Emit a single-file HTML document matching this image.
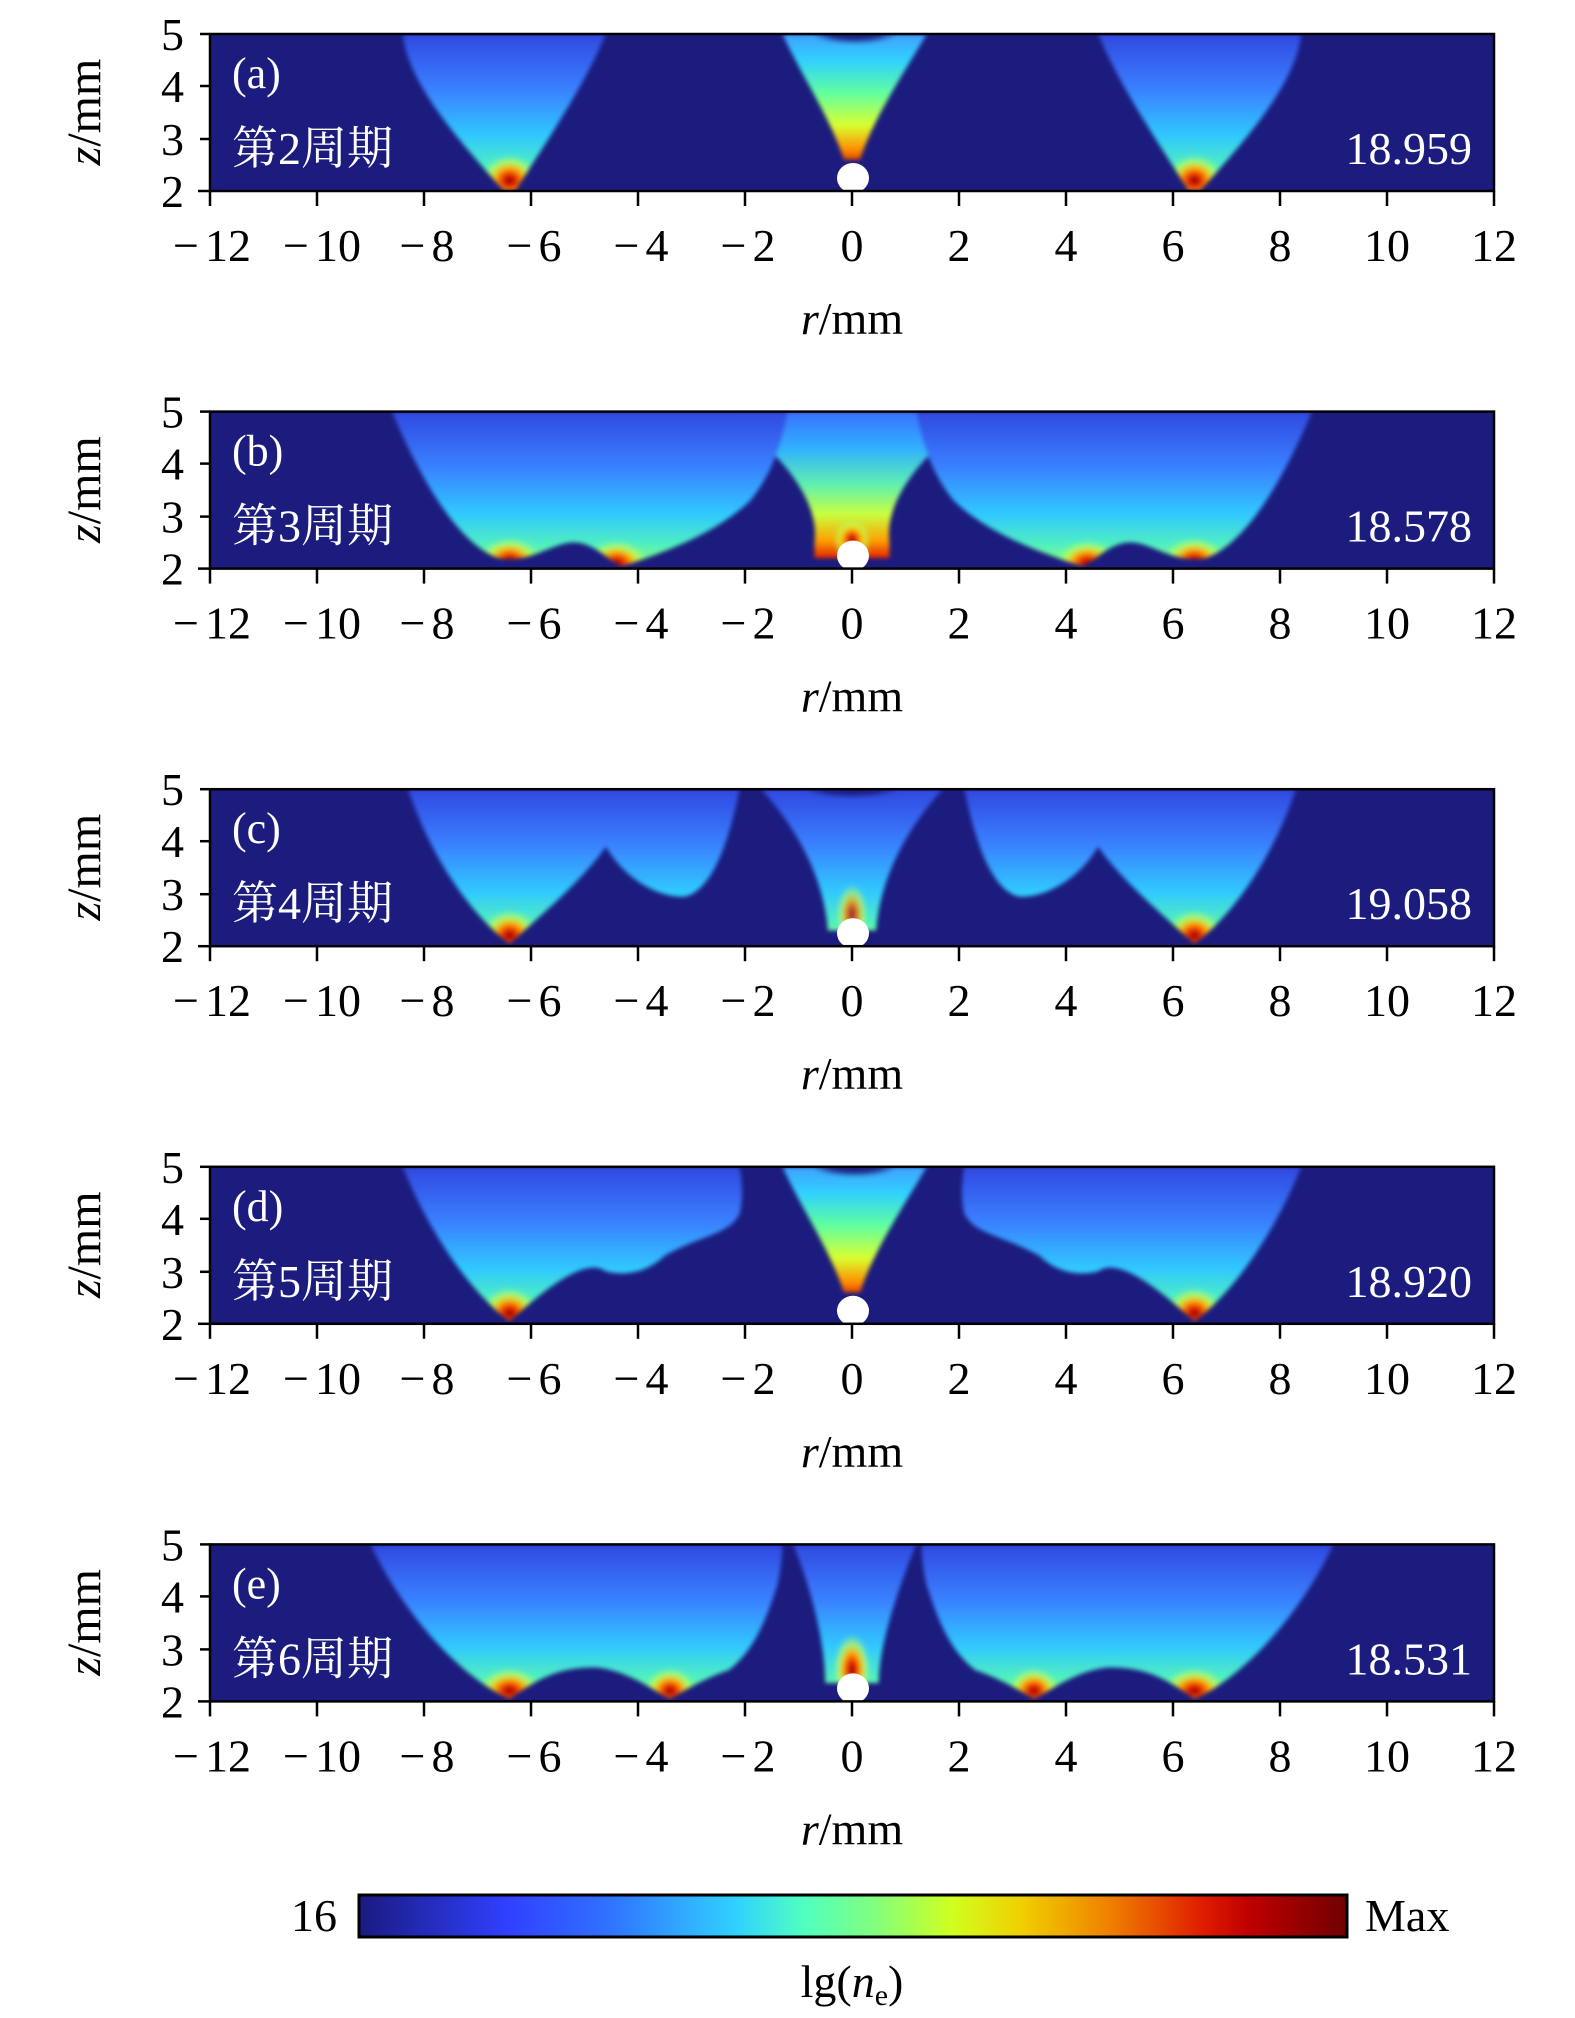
<!DOCTYPE html>
<html><head><meta charset="utf-8"><style>
html,body{margin:0;padding:0;background:#fff;}
svg{display:block;}
text{font-family:"Liberation Serif","Noto Serif CJK SC",serif;}
</style></head><body>
<svg width="1575" height="2018" viewBox="0 0 1575 2018" xmlns="http://www.w3.org/2000/svg">
<defs>
<linearGradient id="side" gradientUnits="userSpaceOnUse" x1="0" y1="2" x2="0" y2="5">
<stop offset="0" stop-color="#a0ff60"/><stop offset="0.15" stop-color="#50f0c0"/>
<stop offset="0.35" stop-color="#30c8ff"/><stop offset="0.65" stop-color="#3a80ff"/>
<stop offset="1" stop-color="#3048e0"/></linearGradient>
<linearGradient id="cen" gradientUnits="userSpaceOnUse" x1="0" y1="2.5" x2="0" y2="5">
<stop offset="0" stop-color="#d02000"/><stop offset="0.12" stop-color="#ff9000"/>
<stop offset="0.3" stop-color="#d8ff30"/><stop offset="0.55" stop-color="#60ffa0"/>
<stop offset="0.8" stop-color="#30d0ff"/><stop offset="1" stop-color="#40a0ff"/></linearGradient>
<linearGradient id="cenb" gradientUnits="userSpaceOnUse" x1="0" y1="2.2" x2="0" y2="5">
<stop offset="0" stop-color="#e02000"/><stop offset="0.12" stop-color="#ffa000"/>
<stop offset="0.3" stop-color="#c8ff40"/><stop offset="0.5" stop-color="#60f0b0"/>
<stop offset="0.75" stop-color="#30b0ff"/><stop offset="1" stop-color="#3a70ff"/></linearGradient>
<radialGradient id="hot">
<stop offset="0" stop-color="#900000"/><stop offset="0.2" stop-color="#e02000"/>
<stop offset="0.45" stop-color="#ffa000"/><stop offset="0.7" stop-color="#d0ff40" stop-opacity="0.7"/>
<stop offset="1" stop-color="#80ff80" stop-opacity="0"/></radialGradient>
<radialGradient id="nav">
<stop offset="0" stop-color="#1c1c7e"/><stop offset="0.6" stop-color="#1c1c7e" stop-opacity="0.9"/>
<stop offset="1" stop-color="#1c1c7e" stop-opacity="0"/></radialGradient>
<linearGradient id="jet" x1="0" y1="0" x2="1" y2="0">
<stop offset="0" stop-color="#1a1a80"/><stop offset="0.15" stop-color="#3040ff"/>
<stop offset="0.25" stop-color="#3070ff"/><stop offset="0.38" stop-color="#30d0ff"/>
<stop offset="0.45" stop-color="#50ffc0"/><stop offset="0.52" stop-color="#80ff80"/>
<stop offset="0.6" stop-color="#d0ff20"/><stop offset="0.67" stop-color="#f0d000"/>
<stop offset="0.76" stop-color="#f08000"/><stop offset="0.85" stop-color="#e02000"/>
<stop offset="0.9" stop-color="#c00000"/><stop offset="1" stop-color="#700000"/></linearGradient>
<filter id="bl" x="-0.2" y="-0.2" width="1.4" height="1.4"><feGaussianBlur stdDeviation="0.04"/></filter>
<clipPath id="plot"><rect x="-12" y="2" width="24" height="3"/></clipPath>

<path id="pa" d="M-6.5,2 C-7.2,2.8 -8.3,4 -8.4,5 L-4.6,5 C-5,4 -5.8,2.8 -6.3,2 Z"/>
<clipPath id="ca"><use href="#pa"/></clipPath>
<g id="sa"><g clip-path="url(#ca)"><rect x="-9" y="2" width="5" height="3" fill="url(#side)"/>
<ellipse cx="-6.4" cy="2.2" rx="0.55" ry="0.5" fill="url(#hot)"/></g></g>
<path id="pca" d="M-0.15,2.6 C-0.4,3.4 -1,4.3 -1.3,5 L1.4,5 C1,4.3 0.4,3.4 0.15,2.6 Z"/>
<clipPath id="cca"><use href="#pca"/></clipPath>
<g id="ga"><g clip-path="url(#cca)"><rect x="-2" y="2" width="4" height="3" fill="url(#cen)"/>
<ellipse cx="0.05" cy="5" rx="0.8" ry="0.2" fill="url(#nav)"/></g></g>

<path id="pb" d="M-8.6,5 C-7.9,3.3 -7.2,2.4 -6.6,2.2 C-6.0,2.1 -5.6,2.5 -5.2,2.5 C-4.8,2.5 -4.5,2.1 -4.3,2.05 C-3.5,2.3 -2.5,2.7 -1.9,3.3 C-1.5,3.8 -1.3,4.4 -1.2,5 Z"/>
<clipPath id="cb"><use href="#pb"/></clipPath>
<g id="sb"><g clip-path="url(#cb)"><rect x="-9" y="2" width="9" height="3" fill="url(#side)"/>
<ellipse cx="-6.4" cy="2.15" rx="0.6" ry="0.45" fill="url(#hot)"/>
<ellipse cx="-4.4" cy="2.1" rx="0.6" ry="0.45" fill="url(#hot)"/></g></g>
<g id="gb">
<path d="M-0.7,2.2 L-0.7,2.5 C-0.6,3.3 -1.3,4.2 -2.4,5 L2.4,5 C1.3,4.2 0.6,3.3 0.7,2.5 L0.7,2.2 Z" fill="url(#cenb)"/>
<ellipse cx="0" cy="2.55" rx="0.35" ry="0.4" fill="url(#hot)"/>
</g>

<path id="pc" d="M-8.3,5 C-7.8,3.5 -7,2.5 -6.4,2.05 C-5.8,2.6 -5,3.3 -4.6,3.9 C-4.2,3.2 -3.5,2.9 -3.1,2.95 C-2.6,3.1 -2.3,4 -2.1,5 Z"/>
<clipPath id="cc"><use href="#pc"/></clipPath>
<g id="sc"><g clip-path="url(#cc)"><rect x="-9" y="2" width="8" height="3" fill="url(#side)"/>
<ellipse cx="-6.4" cy="2.2" rx="0.55" ry="0.5" fill="url(#hot)"/></g></g>
<path id="pcc" d="M-0.45,2.3 C-0.5,3 -0.8,4 -1.7,5 L1.7,5 C0.8,4 0.5,3 0.45,2.3 Z"/>
<clipPath id="ccc"><use href="#pcc"/></clipPath>
<g id="gc"><g clip-path="url(#ccc)"><rect x="-2" y="2" width="4" height="3" fill="url(#side)"/>
<ellipse cx="0" cy="2.6" rx="0.3" ry="0.6" fill="url(#hot)" opacity="0.8"/>
<ellipse cx="0" cy="5" rx="0.9" ry="0.18" fill="url(#nav)"/></g></g>

<path id="pd" d="M-8.4,5 C-7.8,3.5 -7,2.5 -6.4,2.05 C-5.8,2.6 -5.0,3.3 -4.6,3.0 C-4.2,2.9 -3.8,3.0 -3.5,3.3 C-2.8,3.7 -2.3,3.7 -2.1,4.1 C-2.0,4.5 -2.1,5 -2.1,5 Z"/>
<clipPath id="cd"><use href="#pd"/></clipPath>
<g id="sd"><g clip-path="url(#cd)"><rect x="-9" y="2" width="8" height="3" fill="url(#side)"/>
<ellipse cx="-6.4" cy="2.2" rx="0.55" ry="0.5" fill="url(#hot)"/></g></g>

<path id="pe" d="M-9.0,5 C-8.3,3.5 -7.2,2.4 -6.4,2.05 C-5.8,2.5 -5.4,2.65 -4.8,2.65 C-4.2,2.6 -3.7,2.2 -3.4,2.05 C-3.0,2.3 -2.6,2.5 -2.3,2.6 C-1.8,3.0 -1.6,3.6 -1.4,4.2 C-1.3,4.6 -1.3,5 -1.3,5 Z"/>
<clipPath id="ce"><use href="#pe"/></clipPath>
<g id="se"><g clip-path="url(#ce)"><rect x="-9.5" y="2" width="9" height="3" fill="url(#side)"/>
<ellipse cx="-6.4" cy="2.2" rx="0.6" ry="0.45" fill="url(#hot)"/>
<ellipse cx="-3.4" cy="2.2" rx="0.5" ry="0.45" fill="url(#hot)"/></g></g>
<path id="pce" d="M-0.5,2.35 C-0.5,3 -0.7,4 -1.1,5 L1.2,5 C0.8,4 0.5,3 0.5,2.35 Z"/>
<clipPath id="cce"><use href="#pce"/></clipPath>
<g id="ge"><g clip-path="url(#cce)"><rect x="-2" y="2" width="4" height="3" fill="url(#side)"/>
<ellipse cx="0" cy="2.6" rx="0.35" ry="0.7" fill="url(#hot)"/></g></g>

<g id="axes" stroke="#000" stroke-width="2.5">
<line x1="210" y1="191" x2="210" y2="206"/><line x1="317" y1="191" x2="317" y2="206"/>
<line x1="424" y1="191" x2="424" y2="206"/><line x1="531" y1="191" x2="531" y2="206"/>
<line x1="638" y1="191" x2="638" y2="206"/><line x1="745" y1="191" x2="745" y2="206"/>
<line x1="852" y1="191" x2="852" y2="206"/><line x1="959" y1="191" x2="959" y2="206"/>
<line x1="1066" y1="191" x2="1066" y2="206"/><line x1="1173" y1="191" x2="1173" y2="206"/>
<line x1="1280" y1="191" x2="1280" y2="206"/><line x1="1387" y1="191" x2="1387" y2="206"/>
<line x1="1494" y1="191" x2="1494" y2="206"/>
<line x1="200" y1="34" x2="210" y2="34"/><line x1="200" y1="86" x2="210" y2="86"/>
<line x1="200" y1="139" x2="210" y2="139"/><line x1="198" y1="191" x2="210" y2="191"/>
</g>
<g id="labels" font-size="46" fill="#000">
<g text-anchor="middle">
<text x="212" y="261">−<tspan dx="6">12</tspan></text><text x="322" y="261">−<tspan dx="6">10</tspan></text>
<text x="427" y="261">−<tspan dx="6">8</tspan></text><text x="534" y="261">−<tspan dx="6">6</tspan></text>
<text x="641" y="261">−<tspan dx="6">4</tspan></text><text x="748" y="261">−<tspan dx="6">2</tspan></text>
<text x="852" y="261">0</text><text x="959" y="261">2</text>
<text x="1066" y="261">4</text><text x="1173" y="261">6</text>
<text x="1280" y="261">8</text><text x="1387" y="261">10</text>
<text x="1494" y="261">12</text>
<text x="852" y="334"><tspan font-style="italic">r</tspan>/mm</text>
</g>
<g text-anchor="end">
<text x="184" y="50">5</text><text x="184" y="102">4</text>
<text x="184" y="155">3</text><text x="184" y="207">2</text>
</g>
<text transform="translate(100,112) rotate(-90)" text-anchor="middle" font-size="48"><tspan font-style="italic">z</tspan>/mm</text>
</g>
</defs>

<g transform="translate(0,0)">
<rect x="210" y="34" width="1284" height="157" fill="#1c1c7e"/>
<g transform="translate(852,191) scale(53.5,-52.4) translate(0,-2)" clip-path="url(#plot)">
<g filter="url(#bl)"><use href="#sa"/><use href="#sa" transform="scale(-1,1)"/><use href="#ga"/></g>
</g>
<ellipse cx="853" cy="178" rx="16" ry="15" fill="#fff"/>
<rect x="210" y="34" width="1284" height="157" fill="none" stroke="#000" stroke-width="2.5"/>
<use href="#axes"/><use href="#labels"/>
<text x="232" y="88" font-size="44" fill="#fff">(a)</text>
<text x="232" y="164" font-size="46" fill="#fff">第2周期</text>
<text x="1472" y="164" font-size="46" fill="#fff" text-anchor="end">18.959</text>
</g>

<g transform="translate(0,377.6)">
<rect x="210" y="34" width="1284" height="157" fill="#1c1c7e"/>
<g transform="translate(852,191) scale(53.5,-52.4) translate(0,-2)" clip-path="url(#plot)">
<g filter="url(#bl)"><use href="#gb"/><use href="#sb"/><use href="#sb" transform="scale(-1,1)"/></g>
</g>
<ellipse cx="853" cy="178" rx="16" ry="15" fill="#fff"/>
<rect x="210" y="34" width="1284" height="157" fill="none" stroke="#000" stroke-width="2.5"/>
<use href="#axes"/><use href="#labels"/>
<text x="232" y="88" font-size="44" fill="#fff">(b)</text>
<text x="232" y="164" font-size="46" fill="#fff">第3周期</text>
<text x="1472" y="164" font-size="46" fill="#fff" text-anchor="end">18.578</text>
</g>

<g transform="translate(0,755.2)">
<rect x="210" y="34" width="1284" height="157" fill="#1c1c7e"/>
<g transform="translate(852,191) scale(53.5,-52.4) translate(0,-2)" clip-path="url(#plot)">
<g filter="url(#bl)"><use href="#sc"/><use href="#sc" transform="scale(-1,1)"/><use href="#gc"/></g>
</g>
<ellipse cx="853" cy="178" rx="16" ry="15" fill="#fff"/>
<rect x="210" y="34" width="1284" height="157" fill="none" stroke="#000" stroke-width="2.5"/>
<use href="#axes"/><use href="#labels"/>
<text x="232" y="88" font-size="44" fill="#fff">(c)</text>
<text x="232" y="164" font-size="46" fill="#fff">第4周期</text>
<text x="1472" y="164" font-size="46" fill="#fff" text-anchor="end">19.058</text>
</g>

<g transform="translate(0,1132.8)">
<rect x="210" y="34" width="1284" height="157" fill="#1c1c7e"/>
<g transform="translate(852,191) scale(53.5,-52.4) translate(0,-2)" clip-path="url(#plot)">
<g filter="url(#bl)"><use href="#sd"/><use href="#sd" transform="scale(-1,1)"/><use href="#ga"/></g>
</g>
<ellipse cx="853" cy="178" rx="16" ry="15" fill="#fff"/>
<rect x="210" y="34" width="1284" height="157" fill="none" stroke="#000" stroke-width="2.5"/>
<use href="#axes"/><use href="#labels"/>
<text x="232" y="88" font-size="44" fill="#fff">(d)</text>
<text x="232" y="164" font-size="46" fill="#fff">第5周期</text>
<text x="1472" y="164" font-size="46" fill="#fff" text-anchor="end">18.920</text>
</g>

<g transform="translate(0,1510.4)">
<rect x="210" y="34" width="1284" height="157" fill="#1c1c7e"/>
<g transform="translate(852,191) scale(53.5,-52.4) translate(0,-2)" clip-path="url(#plot)">
<g filter="url(#bl)"><use href="#se"/><use href="#se" transform="scale(-1,1)"/><use href="#ge"/></g>
</g>
<ellipse cx="853" cy="178" rx="16" ry="15" fill="#fff"/>
<rect x="210" y="34" width="1284" height="157" fill="none" stroke="#000" stroke-width="2.5"/>
<use href="#axes"/><use href="#labels"/>
<text x="232" y="88" font-size="44" fill="#fff">(e)</text>
<text x="232" y="164" font-size="46" fill="#fff">第6周期</text>
<text x="1472" y="164" font-size="46" fill="#fff" text-anchor="end">18.531</text>
</g>

<rect x="359" y="1895" width="988" height="42" fill="url(#jet)" stroke="#000" stroke-width="3"/>
<text x="337" y="1931" font-size="46" text-anchor="end">16</text>
<text x="1365" y="1931" font-size="46">Max</text>
<text x="852" y="1997" font-size="46" text-anchor="middle">lg(<tspan font-style="italic">n</tspan><tspan font-size="30" dy="8">e</tspan><tspan dy="-8">)</tspan></text>
</svg>
</body></html>
